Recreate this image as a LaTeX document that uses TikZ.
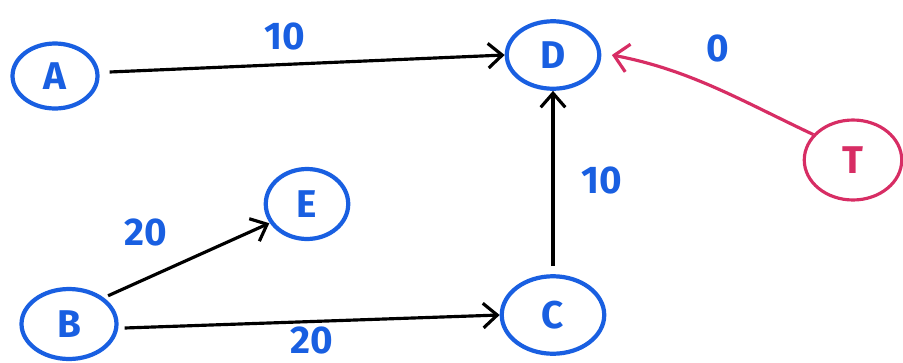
\documentclass[tikz,border=0pt]{standalone}
\usepackage{fontspec}
\setmainfont{Fira Sans}
\usetikzlibrary{arrows.meta,shapes.geometric}
\definecolor{penblue}{RGB}{25,95,225}
\definecolor{penred}{RGB}{215,45,100}
\begin{document}
\begin{tikzpicture}[x=0.02cm,y=-0.02cm,
  vert/.style={draw=penblue,line width=2.4pt,ellipse,inner sep=0pt,minimum width=1.7cm,minimum height=1.3cm,text=penblue,font=\fontsize{22}{24}\selectfont\bfseries},
  redvert/.style={vert,draw=penred,text=penred,line width=1.8pt,minimum width=1.95cm,minimum height=1.6cm},
  edge/.style={line width=1.8pt,-{Straight Barb[length=8pt,width=14pt,line width=1.8pt]}},
  lab/.style={text=penblue,font=\fontsize{22}{24}\selectfont\bfseries}]
\useasboundingbox (0,0) rectangle (903,362);
\node[vert] (A) at (55,76) {A};
\node[vert,minimum width=1.85cm,minimum height=1.35cm] (D) at (553,55) {D};
\node[vert,minimum width=1.65cm,minimum height=1.4cm] (E) at (307,204) {E};
\node[vert,minimum width=1.9cm,minimum height=1.4cm] (B) at (69,324) {B};
\node[vert,minimum width=2.05cm,minimum height=1.55cm] (C) at (553,315) {C};
\node[redvert] (T) at (853,160) {T};
\draw[edge] (A.east) ++(10,-4) coordinate (a1) (a1) -- (D.west);
\draw[edge] (B.north east) ++(4,-2) coordinate (b1) (b1) -- ([xshift=-4,yshift=4]E.south west);
\draw[edge] (B.east) ++(6,4) coordinate (b2) (b2) -- (C.west);
\draw[edge] (C.north) ++(0,-8) coordinate (c1) (c1) -- (D.south);
\draw[edge,draw=penred,-{Straight Barb[length=8pt,width=16pt,line width=1.8pt]}] (T.north west) ++(-4,4) coordinate (t1) (t1) .. controls (740,100) and (690,70) .. ([xshift=6]D.east);
\node[lab] (l1) at (285,36) {10};
\node[lab] (l2) at (146,232) {20};
\node[lab] (l3) at (312,340) {20};
\node[lab] (l4) at (602,180) {10};
\node[lab] (l5) at (718,48) {0};
\end{tikzpicture}
\end{document}
